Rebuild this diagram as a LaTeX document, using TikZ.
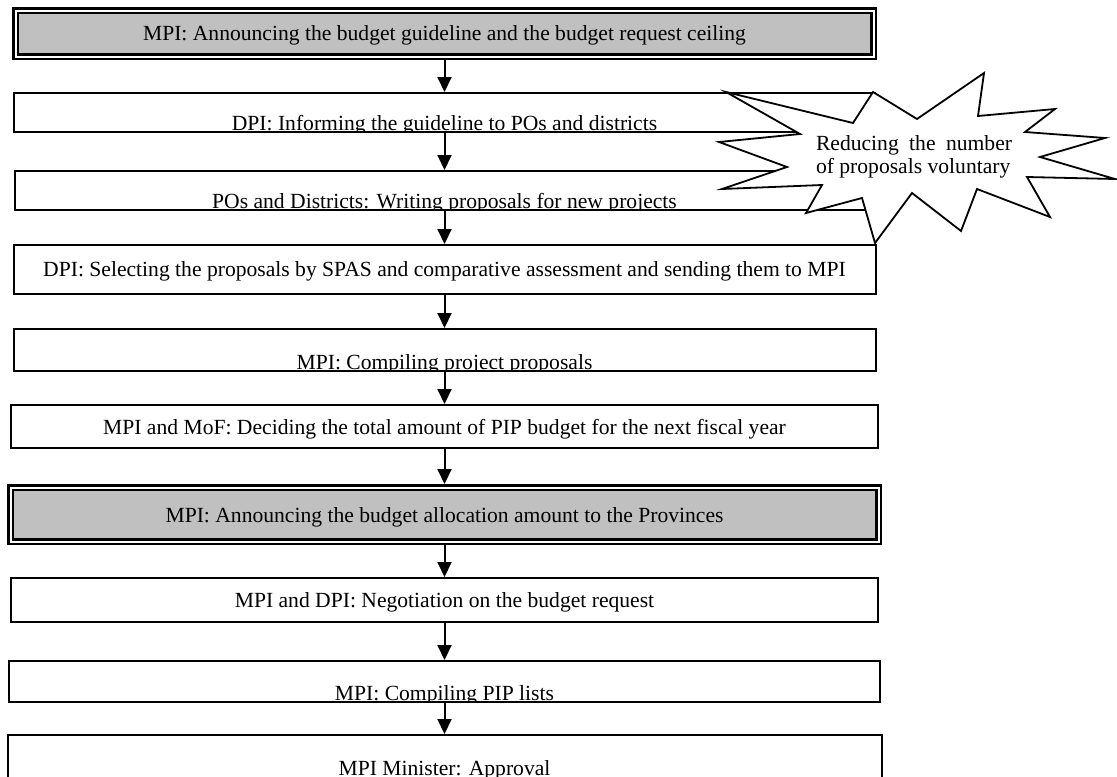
\documentclass[tikz,border=0pt]{standalone}
\usepackage{fontspec}
\setmainfont{Liberation Serif}
\usepackage{tikz}
\usetikzlibrary{arrows.meta}
\definecolor{keygray}{RGB}{192,192,192}
\tikzset{step node/.style={rectangle,draw,fill=white,line width=1pt,inner sep=0pt,text depth=0pt},
}

\begin{document}
\begin{tikzpicture}[x=0.5pt,y=-0.5pt,>={Triangle[width=7pt,length=7.5pt]},
		font=\fontsize{10.8}{12}\selectfont,
		key node/.style={step node,fill=keygray,line width=1.25pt,double=white,double distance=1pt,outer sep=1.75pt},
		cut node/.style={step node,path picture={\node[anchor=base,inner sep=0pt,draw=none,fill=none] at ([yshift=1pt]path picture bounding box.south) {#1};}}]
		
		\useasboundingbox (0,0) rectangle (1117,776);
		
		\node[key node, minimum width=429pt, minimum height=23pt] (a) at (444.5,33.5) {MPI: Announcing the budget guideline and the budget request ceiling};
		\node[cut node={DPI: Informing the guideline to POs and districts}, minimum width=430.5pt, minimum height=19.5pt] (b) at (444.5,112.5) {};
		\node[cut node={POs and Districts: Writing proposals for new projects}, minimum width=430pt, minimum height=19.5pt] (c) at (444.5,190.5) {};
		\node[step node, minimum width=431pt, minimum height=24.5pt] (d) at (444.5,269.5) {DPI: Selecting the proposals by SPAS and comparative assessment and sending them to MPI};
		\node[cut node={MPI: Compiling project proposals}, minimum width=431pt, minimum height=21pt] (e) at (444.5,350) {};
		\node[step node, minimum width=433.5pt, minimum height=21.5pt] (f) at (444.5,426.5) {MPI and MoF: Deciding the total amount of PIP budget for the next fiscal year};
		\node[key node, minimum width=434pt, minimum height=27pt] (g) at (444.5,514.5) {MPI: Announcing the budget allocation amount to the Provinces};
		\node[step node, minimum width=433.5pt, minimum height=22pt] (h) at (444.5,600) {MPI and DPI: Negotiation on the budget request};
		\node[cut node={MPI: Compiling PIP lists}, minimum width=435.5pt, minimum height=20.5pt] (i) at (444.5,681.5) {};
		\node[cut node={MPI Minister: Approval}, minimum width=437pt, minimum height=21.25pt] (j) at (444.5,756.25) {};
		
		\path[->,line width=1pt]
		(a) edge (b)
		(b) edge (c)
		(c) edge (d)
		(d) edge (e)
		(e) edge (f)
		(f) edge (g)
		(g) edge (h)
		(h) edge (i)
		(i) edge (j)
		;
		
		\draw[fill=white,line width=0.9pt] (726,92) -- (853,123) -- (873,92) -- (917,119) -- (984,73) -- (978,116)
		-- (1055,109) -- (1025,132) -- (1105,138) -- (1040,157) -- (1115,179) -- (1027,177)
		-- (1050,217) -- (977,189) -- (961,231) -- (912,193) -- (875,243) -- (862,198)
		-- (806,213) -- (822,185) -- (722,189) -- (787,167) -- (719,142) -- (800,134) -- cycle;
		\node[text width=98pt, align=justify, inner sep=0pt, font=\fontsize{10.8}{11.6}\selectfont] (s) at (914,157) {Reducing\hfill the\hfill number\\of proposals voluntary};
		\end{tikzpicture}
\end{document}
